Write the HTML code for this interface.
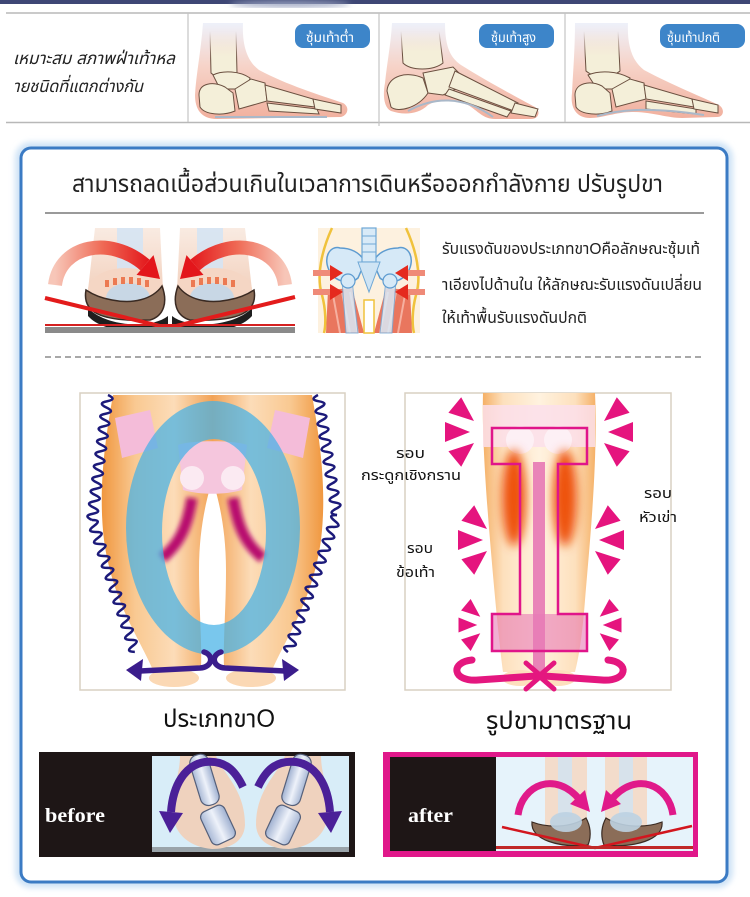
<!DOCTYPE html>
<html><head><meta charset="utf-8">
<style>
html,body{margin:0;padding:0;background:#fff;}
svg{display:block;}
text{font-family:"Liberation Sans","DejaVu Sans","Noto Sans Thai","Noto Sans CJK SC",sans-serif;}
</style></head><body>
<svg width="750" height="897" viewBox="0 0 750 897" xmlns="http://www.w3.org/2000/svg">
<defs>
 <linearGradient id="fs" x1="0" y1="0" x2="0" y2="1"><stop offset="0" stop-color="#eef1fa"/><stop offset=".45" stop-color="#f6d3c8"/><stop offset="1" stop-color="#f1b09e"/></linearGradient>
 <linearGradient id="bf" x1="0" y1="0" x2="0" y2="1"><stop offset="0" stop-color="#f4efd9" stop-opacity="0"/><stop offset=".55" stop-color="#f4efd9"/></linearGradient>
 <linearGradient id="bs" x1="0" y1="0" x2="0" y2="1"><stop offset="0" stop-color="#6b5040" stop-opacity="0"/><stop offset=".6" stop-color="#6b5040"/></linearGradient>
 <linearGradient id="sk" x1="0" y1="0" x2="1" y2="0"><stop offset="0" stop-color="#f0973f"/><stop offset=".3" stop-color="#f9c992"/><stop offset=".65" stop-color="#fcdcb8"/><stop offset="1" stop-color="#f2a255"/></linearGradient>
 <linearGradient id="sk2" x1="0" y1="0" x2="1" y2="0"><stop offset="0" stop-color="#f5b066"/><stop offset=".18" stop-color="#fde0bd"/><stop offset=".5" stop-color="#fff2df"/><stop offset=".82" stop-color="#fde0bd"/><stop offset="1" stop-color="#f5b066"/></linearGradient>
 <linearGradient id="ra" x1="55" y1="0" x2="150" y2="0" gradientUnits="userSpaceOnUse"><stop offset="0" stop-color="#f7c6b8"/><stop offset=".5" stop-color="#ef6a55"/><stop offset="1" stop-color="#e3161b"/></linearGradient>
 <linearGradient id="leg1" x1="0" y1="0" x2="0" y2="1"><stop offset="0" stop-color="#f9ebe2"/><stop offset="1" stop-color="#f3d2bf"/></linearGradient>
 <linearGradient id="bone" x1="0" y1="0" x2="1" y2="0"><stop offset="0" stop-color="#a9b9d6"/><stop offset=".5" stop-color="#eef2fa"/><stop offset="1" stop-color="#9fb0d0"/></linearGradient>
 <filter id="b4" x="-50%" y="-50%" width="200%" height="200%"><feGaussianBlur stdDeviation="4"/></filter>
 <filter id="b2" x="-50%" y="-50%" width="200%" height="200%"><feGaussianBlur stdDeviation="2.5"/></filter>
 <filter id="b6" x="-50%" y="-50%" width="200%" height="200%"><feGaussianBlur stdDeviation="5"/></filter>
 <filter id="b3" x="-10%" y="-10%" width="120%" height="120%"><feGaussianBlur stdDeviation="3"/></filter>
 <g id="tri" fill="#e5147e">
  <polygon points="470,432 445,422 445,442"/>
  <polygon points="474,421 461.2,397.3 448.4,412.7"/>
  <polygon points="474,443 448.4,451.3 461.2,466.7"/>
 </g>
</defs>

<!-- top strip -->
<rect x="0" y="0" width="750" height="4" fill="#3e4775"/>
<ellipse cx="290" cy="4" rx="60" ry="3" fill="#9aa3c0" filter="url(#b3)"/>

<!-- table -->
<line x1="6" y1="13" x2="750" y2="13" stroke="#b8b8b8" stroke-width="1.5"/>
<line x1="6" y1="122.5" x2="750" y2="122.5" stroke="#b8b8b8" stroke-width="1.5"/>
<line x1="188" y1="13" x2="188" y2="122" stroke="#c4c4c4" stroke-width="1.2"/>
<line x1="379" y1="13" x2="379" y2="126" stroke="#c4c4c4" stroke-width="1.2"/>
<line x1="565" y1="13" x2="565" y2="122" stroke="#c4c4c4" stroke-width="1.2"/>
<text x="13" y="64" font-size="17" font-style="italic" fill="#222" textLength="162" lengthAdjust="spacingAndGlyphs">เหมาะสม สภาพฝ่าเท้าหล</text>
<text x="13" y="92" font-size="17" font-style="italic" fill="#222" textLength="130" lengthAdjust="spacingAndGlyphs">ายชนิดที่แตกต่างกัน</text>

<!-- foot 1 low arch -->
<g transform="translate(195,23)">
 <path d="M8,0 L48,0 C47,22 52,38 64,47 C92,62 125,72 148,80 C155,84 153,92 146,94 L22,96 C6,96 0,86 0,72 C1,52 6,28 8,0 Z" fill="url(#fs)"/>
 <path d="M15,8 L41,8 L42,50 C36,56 22,56 16,50 Z" fill="url(#bf)" stroke="url(#bs)" stroke-width="1"/>
 <g fill="#f4efd9" stroke="#6b5040" stroke-width="1">
  <path d="M18,52 C28,47 45,48 55,55 L52,66 L25,66 Z"/>
  <path d="M4,72 C4,60 18,58 30,64 L38,70 L40,88 C28,93 10,92 5,84 Z"/>
  <path d="M40,66 L56,56 L70,60 L72,78 L44,86 Z"/>
  <path d="M70,62 L118,76 L120,84 L72,78 Z"/>
  <path d="M72,80 L122,86 L124,91 L74,88 Z"/>
  <path d="M118,76 L146,82 L146,90 L120,86 Z"/>
 </g>
 <path d="M20,94 L132,94" stroke="#a9b8c9" stroke-width="2" fill="none"/>
</g>
<!-- foot 2 high arch -->
<g transform="translate(383,23)">
 <path d="M9,0 L62,0 C62,25 68,35 78,42 C100,56 135,75 152,84 C158,88 156,96 148,96 L112,96 C100,96 95,88 85,82 C70,76 55,76 45,82 C35,92 20,92 8,88 C0,84 0,70 2,60 C4,40 8,20 9,0 Z" fill="url(#fs)"/>
 <path d="M18,8 L56,8 L60,40 C50,48 28,48 20,40 Z" fill="url(#bf)" stroke="url(#bs)" stroke-width="1"/>
 <g fill="#f4efd9" stroke="#6b5040" stroke-width="1">
  <path d="M4,68 C5,52 25,48 40,55 L45,70 C35,85 15,90 8,84 Z"/>
  <path d="M40,50 L70,44 L86,60 L60,72 L45,70 Z"/>
  <path d="M72,48 L135,80 L131,88 L66,64 Z"/>
  <path d="M66,66 L128,88 L124,94 L62,72 Z"/>
  <path d="M132,80 L155,86 L152,94 L128,90 Z"/>
 </g>
 <path d="M25,88 C50,74 80,72 110,94" stroke="#a9b8c9" stroke-width="2" fill="none"/>
</g>
<!-- foot 3 normal -->
<g transform="translate(572,23)">
 <path d="M3,0 L56,0 C55,22 60,38 72,47 C100,62 130,74 147,82 C153,86 152,94 145,94 L110,95 C95,95 80,89 60,89 C45,89 30,95 18,95 C4,95 -2,84 0,70 C1,50 3,25 3,0 Z" fill="url(#fs)"/>
 <path d="M12,8 L46,8 L48,48 C40,55 22,55 14,48 Z" fill="url(#bf)" stroke="url(#bs)" stroke-width="1"/>
 <g fill="#f4efd9" stroke="#6b5040" stroke-width="1">
  <path d="M16,52 C28,47 45,48 58,55 L55,66 L25,66 Z"/>
  <path d="M3,72 C3,60 18,57 30,63 L38,70 L40,88 C28,93 9,92 4,84 Z"/>
  <path d="M40,66 L58,56 L72,60 L74,76 L44,84 Z"/>
  <path d="M72,62 L120,76 L122,84 L74,76 Z"/>
  <path d="M74,78 L124,86 L124,91 L74,86 Z"/>
  <path d="M120,76 L146,82 L146,90 L122,86 Z"/>
 </g>
 <path d="M25,93 C50,86 80,84 132,92" stroke="#a9b8c9" stroke-width="2" fill="none"/>
</g>
<!-- labels -->
<rect x="295" y="24" width="75" height="24" rx="8" fill="#3d85c9"/>
<text x="306" y="42" font-size="13" fill="#fff" textLength="48" lengthAdjust="spacingAndGlyphs">ซุ้มเท้าต่ำ</text>
<rect x="479" y="24" width="75" height="24" rx="8" fill="#3d85c9"/>
<text x="491" y="42" font-size="13" fill="#fff" textLength="45" lengthAdjust="spacingAndGlyphs">ซุ้มเท้าสูง</text>
<rect x="660" y="24" width="85" height="24" rx="8" fill="#3d85c9"/>
<text x="667" y="42" font-size="13" fill="#fff" textLength="53" lengthAdjust="spacingAndGlyphs">ซุ้มเท้าปกติ</text>

<!-- card -->
<rect x="21" y="148" width="706" height="734" rx="10" fill="none" stroke="#cfe3f6" stroke-width="12" filter="url(#b3)"/>
<rect x="21" y="148" width="706" height="734" rx="10" fill="#fff" stroke="#3b7bc4" stroke-width="3"/>

<text x="72" y="192" font-size="24" fill="#222" textLength="591" lengthAdjust="spacingAndGlyphs">สามารถลดเนื้อส่วนเกินในเวลาการเดินหรือออกกำลังกาย ปรับรูปขา</text>
<line x1="45" y1="213" x2="704" y2="213" stroke="#9a9a9a" stroke-width="2"/>

<!-- feet with red arrows -->
<g>
 <g id="lfoot">
  <path d="M95,228 L160,228 L163,290 L88,290 Z" fill="url(#leg1)"/>
  <rect x="117" y="228" width="26" height="60" fill="#d3e4f4" opacity=".85"/>
  <ellipse cx="126" cy="290" rx="38" ry="22" fill="#f5d6c4"/>
  <ellipse cx="128" cy="298" rx="22" ry="15" fill="#c3d7e9" opacity=".9"/>
  <g fill="#ec7a52"><rect x="105" y="280" width="4" height="7"/><rect x="113" y="278" width="4" height="7"/><rect x="121" y="277" width="4" height="7"/><rect x="129" y="277" width="4" height="7"/><rect x="137" y="278" width="4" height="7"/><rect x="145" y="280" width="4" height="7"/></g>
  <path d="M86,290 C82,312 100,322 150,320 C164,316 168,302 162,286 C152,300 132,304 112,300 C100,298 92,294 86,290 Z" fill="#8b6d58" stroke="#3a2a22" stroke-width="1.5"/>
  <path d="M88,308 C105,326 150,330 168,316 L168,324 C150,336 104,334 88,316 Z" fill="#1e1e1e"/>
  <path d="M55,285 C60,245 110,235 145,265" fill="none" stroke="url(#ra)" stroke-width="14"/>
  <polygon points="160,279 136.5,274.9 153.5,255.1" fill="#e3161b"/>
 </g>
 <use href="#lfoot" transform="translate(340,0) scale(-1,1)"/>
 <line x1="45" y1="298" x2="168" y2="328" stroke="#e31b1b" stroke-width="4"/>
 <line x1="295" y1="297" x2="168" y2="328" stroke="#e31b1b" stroke-width="4"/>
 <rect x="45" y="324" width="250" height="2" fill="#d42020"/>
 <rect x="45" y="327" width="250" height="6" fill="#8a8a8a"/>
</g>

<!-- pelvis -->
<g>
 <rect x="318" y="228" width="102" height="105" fill="#fdf1df"/>
 <g id="phalf">
  <path d="M332,228 C322,250 316,275 322,295 C326,310 326,325 324,333" fill="none" stroke="#f0c23c" stroke-width="2.5"/>
  <path d="M328,290 L352,288 L364,333 L326,333 Z" fill="#e9765e"/>
  <path d="M333,295 L340,333 M342,292 L350,333 M350,292 L358,333" stroke="#f6b0a0" stroke-width="2"/>
  <path d="M340,248 C330,245 322,258 330,272 C336,282 350,285 358,278 L365,262 C360,252 350,248 340,248 Z" fill="#d6e9f7" stroke="#5d9bd0" stroke-width="1.5"/>
  <path d="M342,280 L352,280 L358,333 L346,333 Z" fill="#d8eaf7" opacity=".85" stroke="#7aa9d4" stroke-width="1"/>
  <circle cx="348" cy="281" r="7" fill="#d6e9f7" stroke="#5d9bd0" stroke-width="1.2"/>
  <rect x="313" y="270" width="20" height="6" fill="#ef8a78"/>
  <polygon points="330,265 343,273 330,281" fill="#e52a1e"/>
  <rect x="313" y="289" width="20" height="6" fill="#ef8a78"/>
  <polygon points="330,284 343,292 330,300" fill="#e52a1e"/>
 </g>
 <use href="#phalf" transform="translate(738,0) scale(-1,1)"/>
 <rect x="362" y="228" width="14" height="34" fill="#d8eaf7" stroke="#6fa8d6" stroke-width="1.2"/>
 <path d="M362,236 L376,236 M362,244 L376,244 M362,252 L376,252" stroke="#6fa8d6" stroke-width="1"/>
 <polygon points="358,262 380,262 369,292" fill="#cfe4f4" stroke="#6fa8d6" stroke-width="1"/>
 <rect x="364" y="300" width="10" height="33" fill="#fff" stroke="#f0c23c" stroke-width="1.5"/>
</g>

<text x="442" y="254" font-size="16" fill="#222" textLength="258" lengthAdjust="spacingAndGlyphs">รับแรงดันของประเภทขาOคือลักษณะซุ้มเท้</text>
<text x="442" y="290" font-size="16" fill="#222" textLength="260" lengthAdjust="spacingAndGlyphs">าเอียงไปด้านใน ให้ลักษณะรับแรงดันเปลี่ยน</text>
<text x="442" y="323" font-size="16" fill="#222" textLength="145" lengthAdjust="spacingAndGlyphs">ให้เท้าพื้นรับแรงดันปกติ</text>

<line x1="45" y1="357" x2="704" y2="357" stroke="#a8a8a8" stroke-width="2" stroke-dasharray="6,4"/>

<!-- O legs -->
<rect x="80" y="393" width="265" height="297" fill="#fff" stroke="#d9d0c2" stroke-width="1.5"/>
<g>
 <path id="olegL" d="M113,395 L213,395 L213,478 C206,500 199,530 199,570 C199,610 202,640 201,668 L152,668 C140,640 112,600 104,540 C98,490 105,440 113,395 Z" fill="url(#sk)"/>
 <use href="#olegL" transform="translate(425,0) scale(-1,1)"/>
 <ellipse cx="174" cy="678" rx="25" ry="9" fill="#fbd8b4"/>
 <ellipse cx="251" cy="678" rx="25" ry="9" fill="#fbd8b4"/>
 <path d="M115,418 L150,410 L158,448 L122,458 Z" fill="#f4bcd9"/>
 <path d="M310,418 L275,410 L267,448 L303,458 Z" fill="#f4bcd9"/>
 <path d="M178,445 C190,440 235,440 247,445 L242,490 C225,495 200,495 183,490 Z" fill="#f5c6dd"/>
 <circle cx="192" cy="478" r="12" fill="#fbeaf2"/>
 <circle cx="233" cy="478" r="12" fill="#fbeaf2"/>
 <g filter="url(#b2)" stroke="#b8116e" stroke-width="11" fill="none">
  <path d="M192,498 C188,522 182,542 162,558"/>
  <path d="M233,498 C237,522 243,542 263,558"/>
 </g>
 <path d="M300,528 A87,127 0 1,0 126,528 A87,127 0 1,0 300,528 Z M266,532 A52,93 0 1,1 162,532 A52,93 0 1,1 266,532 Z" fill="#45b2e6" fill-rule="evenodd" opacity=".72"/>
 <g fill="none" stroke="#1c1a7a" stroke-width="2.5">
  <path transform="translate(108,395) rotate(97.3)" d="M0,0 q3.15,-10 6.3,0 t6.3,0 t6.3,0 t6.3,0 t6.3,0 t6.3,0 t6.3,0 t6.3,0 t6.3,0 t6.3,0 t6.3,0 t6.3,0 t6.3,0 t6.3,0 t6.3,0 t6.3,0 t6.3,0 t6.3,0 t6.3,0 t6.3,0"/>
  <path transform="translate(92,520) rotate(72)" d="M0,0 q3.15,-10 6.3,0 t6.3,0 t6.3,0 t6.3,0 t6.3,0 t6.3,0 t6.3,0 t6.3,0 t6.3,0 t6.3,0 t6.3,0 t6.3,0 t6.3,0 t6.3,0 t6.3,0 t6.3,0 t6.3,0 t6.3,0 t6.3,0 t6.3,0 t6.3,0 t6.3,0"/>
  <path transform="translate(318,395) rotate(81)" d="M0,0 q3.2,10 6.4,0 t6.4,0 t6.4,0 t6.4,0 t6.4,0 t6.4,0 t6.4,0 t6.4,0 t6.4,0 t6.4,0 t6.4,0 t6.4,0 t6.4,0 t6.4,0 t6.4,0 t6.4,0 t6.4,0 t6.4,0 t6.4,0"/>
  <path transform="translate(337,515) rotate(109.7)" d="M0,0 q3.16,10 6.33,0 t6.33,0 t6.33,0 t6.33,0 t6.33,0 t6.33,0 t6.33,0 t6.33,0 t6.33,0 t6.33,0 t6.33,0 t6.33,0 t6.33,0 t6.33,0 t6.33,0 t6.33,0 t6.33,0 t6.33,0 t6.33,0 t6.33,0 t6.33,0 t6.33,0 t6.33,0"/>
 </g>
 <g fill="none" stroke="#3b1d8c" stroke-width="5.5" stroke-linecap="round">
  <path d="M140,671 L200,668 C213,667 214,655 204,652"/>
  <path d="M285,671 L225,668 C212,667 211,655 221,652"/>
 </g>
 <polygon points="126,670 143,659 141,681" fill="#3b1d8c"/>
 <polygon points="299,670 282,659 284,681" fill="#3b1d8c"/>
</g>

<!-- standard legs -->
<rect x="405" y="393" width="266" height="297" fill="#fff" stroke="#d9d0c2" stroke-width="1.5"/>
<g>
 <path d="M483,393 L595,393 C598,460 590,540 585,600 C582,640 578,660 575,672 L503,672 C500,650 495,600 490,540 C485,480 482,430 483,393 Z" fill="url(#sk2)"/>
 <path d="M539,470 L539,672" stroke="#f6c48e" stroke-width="1.5"/>
 <ellipse cx="520" cy="678" rx="18" ry="8" fill="#fde0bd"/>
 <ellipse cx="558" cy="678" rx="18" ry="8" fill="#fde0bd"/>
 <rect x="483" y="405" width="112" height="42" fill="#fbdfeb" opacity=".85"/>
 <circle cx="520" cy="440" r="14" fill="#fdf0f5"/>
 <circle cx="558" cy="440" r="14" fill="#fdf0f5"/>
 <g filter="url(#b6)" fill="#ee5208">
  <ellipse cx="514" cy="498" rx="12" ry="48"/>
  <ellipse cx="565" cy="498" rx="12" ry="48"/>
 </g>
 <rect x="533" y="462" width="12" height="210" fill="#e984b8"/>
 <rect x="492" y="614" width="95" height="37" fill="#e87ab5" opacity=".6"/>
 <polygon points="492,428 587,428 587,464 558,464 558,614 587,614 587,651 492,651 492,614 520,614 520,464 492,464" fill="none" stroke="#e0158a" stroke-width="2.5"/>
 <use href="#tri"/>
 <use href="#tri" transform="translate(1078,0) scale(-1,1)"/>
 <use href="#tri" transform="translate(13,108)"/>
 <use href="#tri" transform="translate(1082,0) scale(-1,1) translate(13,108)"/>
 <use href="#tri" transform="translate(490,625) scale(0.75) translate(-487,-432)"/>
 <use href="#tri" transform="translate(1080,0) scale(-1,1) translate(490,625) scale(0.75) translate(-487,-432)"/>
 <g fill="none" stroke="#e4177f" stroke-width="7" stroke-linecap="round">
  <path d="M472,660 C450,662 452,682 478,680 L536,676"/>
  <path d="M608,660 C630,662 628,682 602,680 L544,676"/>
 </g>
 <g fill="none" stroke="#e4177f" stroke-width="5" stroke-linecap="round">
  <polyline points="526,663 541,676 526,689"/>
  <polyline points="554,663 539,676 554,689"/>
 </g>
</g>

<text x="396" y="458" font-size="14" fill="#111" textLength="29" lengthAdjust="spacingAndGlyphs">รอบ</text>
<text x="361" y="480" font-size="14" fill="#111" textLength="100" lengthAdjust="spacingAndGlyphs">กระดูกเชิงกราน</text>
<text x="644" y="498" font-size="14" fill="#111" textLength="28" lengthAdjust="spacingAndGlyphs">รอบ</text>
<text x="639" y="522" font-size="14" fill="#111" textLength="38" lengthAdjust="spacingAndGlyphs">หัวเข่า</text>
<text x="407" y="553" font-size="14" fill="#111" textLength="26" lengthAdjust="spacingAndGlyphs">รอบ</text>
<text x="396" y="577" font-size="14" fill="#111" textLength="39" lengthAdjust="spacingAndGlyphs">ข้อเท้า</text>

<text x="163" y="727" font-size="25" fill="#111" textLength="112" lengthAdjust="spacingAndGlyphs">ประเภทขาO</text>
<text x="486" y="729" font-size="25" fill="#111" textLength="146" lengthAdjust="spacingAndGlyphs">รูปขามาตรฐาน</text>

<!-- before -->
<rect x="39" y="752" width="316" height="105" fill="#1e1616"/>
<rect x="152" y="756" width="197" height="96" fill="#d8edf8"/>
<rect x="152" y="847" width="197" height="5" fill="#9aa4aa"/>
<g id="bfoot">
 <path d="M180,756 L216,756 C224,775 245,790 245,825 C244,843 228,849 212,849 C190,847 175,835 173,815 C171,792 180,775 180,756 Z" fill="#efd2be"/>
 <rect x="195" y="754" width="19" height="52" rx="8" transform="rotate(-17 204 780)" fill="url(#bone)" stroke="#55607a" stroke-width="1.2"/>
 <rect x="205" y="807" width="26" height="36" rx="6" transform="rotate(-25 218 825)" fill="url(#bone)" stroke="#55607a" stroke-width="1.2"/>
 <path d="M243,787 C235,770 225,760 205,762 C185,765 173,785 171,812" fill="none" stroke="#4b2098" stroke-width="8"/>
 <polygon points="170,833 159,811 183,813" fill="#4b2098"/>
</g>
<use href="#bfoot" transform="translate(501,0) scale(-1,1)"/>
<text x="45" y="822" font-size="20" font-weight="bold" fill="#fff" textLength="60" lengthAdjust="spacingAndGlyphs" style="font-family:'Liberation Serif',serif">before</text>

<!-- after -->
<rect x="383" y="752" width="315" height="105" fill="#e0188a"/>
<rect x="390" y="757" width="106" height="94" fill="#1e1616"/>
<rect x="496" y="757" width="197" height="94" fill="#e6f3fb"/>
<g>
 <rect x="545" y="757" width="42" height="70" fill="#f3dccb"/>
 <rect x="605" y="757" width="42" height="70" fill="#f3dccb"/>
 <rect x="558" y="757" width="14" height="60" fill="#cfe3f3" opacity=".8"/>
 <rect x="619" y="757" width="14" height="60" fill="#cfe3f3" opacity=".8"/>
 <path d="M532,822 C530,840 560,848 588,845 C592,835 590,825 586,818 C570,828 548,828 532,822 Z" fill="#8b6d58" stroke="#3a2a22" stroke-width="1.2"/>
 <path d="M662,822 C664,840 634,848 604,845 C600,835 602,825 606,818 C622,828 646,828 662,822 Z" fill="#8b6d58" stroke="#3a2a22" stroke-width="1.2"/>
 <ellipse cx="566" cy="822" rx="16" ry="10" fill="#bcd2e2" opacity=".9"/>
 <ellipse cx="626" cy="822" rx="16" ry="10" fill="#bcd2e2" opacity=".9"/>
 <line x1="502" y1="827" x2="595" y2="848" stroke="#d2161e" stroke-width="2.5"/>
 <line x1="692" y1="826" x2="595" y2="848" stroke="#d2161e" stroke-width="2.5"/>
 <rect x="496" y="846" width="197" height="3" fill="#c02828"/>
 <g fill="none" stroke="#e01a8a" stroke-width="7">
  <path d="M518,815 C522,785 555,770 580,800"/>
  <path d="M673,815 C669,785 636,770 611,800"/>
 </g>
 <polygon points="590,812 570,804 585,790" fill="#e01a8a"/>
 <polygon points="601,812 621,804 606,790" fill="#e01a8a"/>
</g>
<text x="408" y="822" font-size="20" font-weight="bold" fill="#fff" textLength="45" lengthAdjust="spacingAndGlyphs" style="font-family:'Liberation Serif',serif">after</text>
</svg>
</body></html>
